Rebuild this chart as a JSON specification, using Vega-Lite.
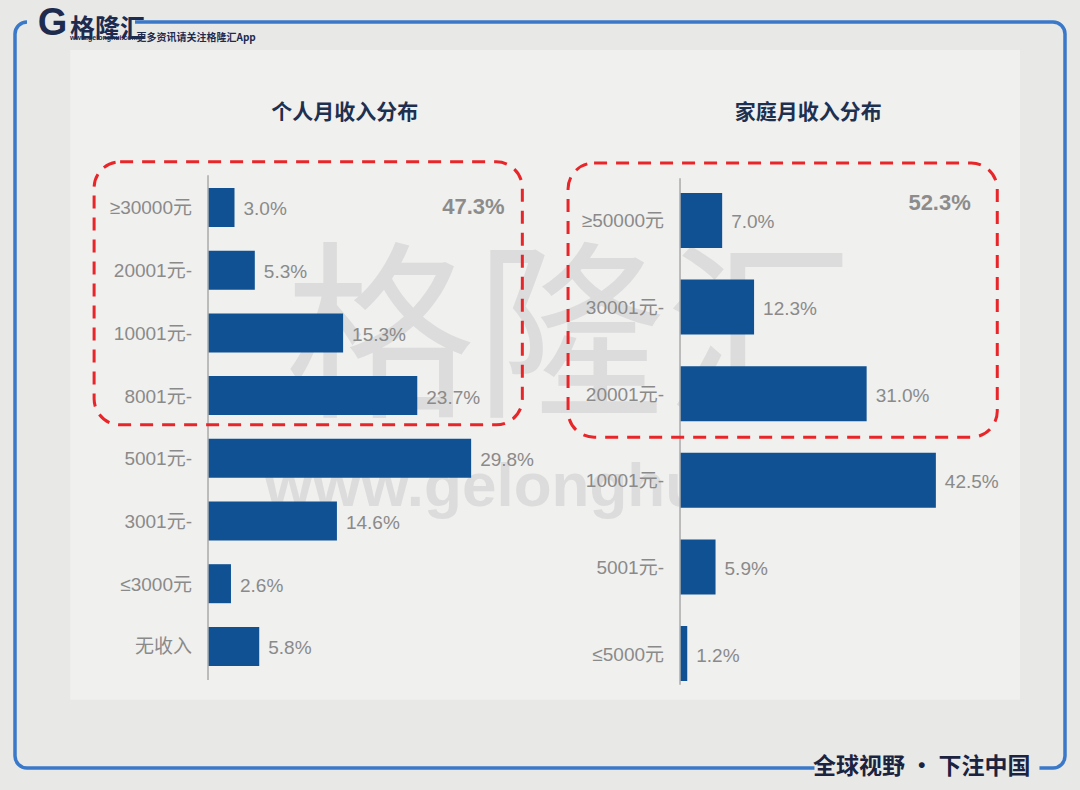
{
  "$schema": "https://vega.github.io/schema/vega-lite/v6.json",
  "width": 1050,
  "height": 746,
  "autosize": {"type": "none"},
  "padding": {"left": 15, "top": 22, "right": 15, "bottom": 22},
  "background": "#e8e9e6",
  "title": {"text": "格隆汇", "subtitle": "www.gelonghui.com", "anchor": "start", "frame": "group", "dx": 55, "dy": 42, "fontSize": 25, "fontWeight": "bold", "color": "#1d2b4f", "font": "Noto Sans CJK SC", "subtitleFontSize": 7, "subtitleFont": "Liberation Sans", "subtitleFontWeight": "bold", "subtitleColor": "#1d2b4f", "subtitlePadding": -8},
  "config": {
    "view": {"fill": "#e8e9e6", "stroke": "#3a78c9", "strokeWidth": 3.5, "cornerRadius": 12, "strokeDash": [0, 108, 1691, 225, 1700]},
    "font": "Noto Sans CJK SC",
    "axis": {"labels": false, "ticks": false, "domain": false, "grid": false}
  },
  "datasets": {
    "personal": [
      {"cat": "≥30000元", "share": 0.030},
      {"cat": "20001元-", "share": 0.053},
      {"cat": "10001元-", "share": 0.153},
      {"cat": "8001元-", "share": 0.237},
      {"cat": "5001元-", "share": 0.298},
      {"cat": "3001元-", "share": 0.146},
      {"cat": "≤3000元", "share": 0.026},
      {"cat": "无收入", "share": 0.058}
    ],
    "household": [
      {"cat": "≥50000元", "share": 0.070},
      {"cat": "30001元-", "share": 0.123},
      {"cat": "20001元-", "share": 0.310},
      {"cat": "10001元-", "share": 0.425},
      {"cat": "5001元-", "share": 0.059},
      {"cat": "≤5000元", "share": 0.012}
    ]
  },
  "layer": [
    {
      "layer": [
        {
          "data": {"values": [{}]},
          "mark": {"type": "rect", "fill": "#f0f0ef"},
          "encoding": {
            "x": {"datum": -0.156, "type": "quantitative"},
            "x2": {"datum": 0.9196},
            "y": {"datum": "≥30000元", "type": "nominal", "bandPosition": -3.54},
            "y2": {"datum": "无收入", "bandPosition": 1.87}
          }
        },
        {
          "data": {"values": [{"t": "格隆汇"}]},
          "mark": {"type": "text", "fontSize": 190, "fill": "#dcdcdc", "align": "center", "baseline": "middle"},
          "encoding": {
            "x": {"datum": 0.41, "type": "quantitative"},
            "y": {"datum": "10001元-", "type": "nominal", "bandPosition": 0.81},
            "text": {"field": "t"}
          }
        },
        {
          "data": {"values": [{"t": "www.gelonghui.com"}]},
          "mark": {"type": "text", "fontSize": 62, "font": "Liberation Sans", "fontWeight": "bold", "fill": "#dcdcdc", "align": "center", "baseline": "middle"},
          "encoding": {
            "x": {"datum": 0.404, "type": "quantitative"},
            "y": {"datum": "5001元-", "type": "nominal", "bandPosition": 1.24},
            "text": {"field": "t"}
          }
        },
        {
          "data": {"name": "personal"},
          "mark": {"type": "bar", "color": "#0f5193"},
          "encoding": {
            "x": {
              "field": "share", "type": "quantitative",
              "scale": {"domain": [-0.2186, 0.9706], "nice": false},
              "axis": {"title": null, "labels": false, "ticks": false, "domain": false, "grid": false}
            },
            "y": {
              "field": "cat", "type": "nominal", "sort": null,
              "scale": {"domain": ["≥30000元", "20001元-", "10001元-", "8001元-", "5001元-", "3001元-", "≤3000元", "无收入"], "range": [134.65, 675.25], "paddingInner": 0.378, "paddingOuter": 0.5},
              "axis": {"orient": "left", "title": "更多资讯请关注格隆汇App", "titleAngle": 0, "titleX": 121, "titleY": 15, "titleAlign": "left", "titleBaseline": "middle", "titleFontSize": 10, "titleFontWeight": "bold", "titleColor": "#1d2b4f", "titleFont": "Noto Sans CJK SC", "labels": false, "ticks": false, "domain": false, "grid": false}
            }
          }
        },
        {
          "data": {"name": "personal"},
          "mark": {"type": "text", "align": "left", "baseline": "middle", "dx": 9, "dy": 2, "fontSize": 19, "fill": "#8a8a8a", "font": "Liberation Sans, Noto Sans CJK SC"},
          "encoding": {
            "x": {"field": "share", "type": "quantitative"},
            "y": {"field": "cat", "type": "nominal", "sort": null},
            "text": {"field": "share", "type": "quantitative", "format": ".1%"}
          }
        },
        {
          "data": {"name": "personal"},
          "mark": {"type": "text", "align": "right", "baseline": "middle", "dx": -16, "dy": 1, "fontSize": 19, "fill": "#8a8a8a", "font": "Liberation Sans, Noto Sans CJK SC"},
          "encoding": {
            "x": {"datum": 0, "type": "quantitative"},
            "y": {"field": "cat", "type": "nominal", "sort": null},
            "text": {"field": "cat"}
          }
        },
        {
          "data": {"values": [{}]},
          "mark": {"type": "rule", "color": "#aaaaaa", "strokeWidth": 1.5},
          "encoding": {
            "x": {"datum": 0, "type": "quantitative"},
            "y": {"datum": "≥30000元", "type": "nominal", "bandPosition": -0.33},
            "y2": {"datum": "无收入", "bandPosition": 1.36}
          }
        },
        {
          "data": {"values": [{"t": "个人月收入分布"}]},
          "mark": {"type": "text", "fontSize": 21, "fontWeight": "bold", "fill": "#1e3050", "align": "center", "baseline": "middle"},
          "encoding": {
            "x": {"datum": 0.155, "type": "quantitative"},
            "y": {"datum": "≥30000元", "type": "nominal", "bandPosition": -1.92},
            "text": {"field": "t"}
          }
        },
        {
          "data": {"values": [{"t": "47.3%"}]},
          "mark": {"type": "text", "fontSize": 22, "fontWeight": "bold", "fill": "#8c8c8c", "align": "right", "baseline": "middle", "font": "Liberation Sans, Noto Sans CJK SC"},
          "encoding": {
            "x": {"datum": 0.336, "type": "quantitative"},
            "y": {"datum": "≥30000元", "type": "nominal", "bandPosition": 0.5},
            "text": {"field": "t"}
          }
        },
        {
          "data": {"values": [{}]},
          "mark": {"type": "rect", "fill": "#ffffff", "fillOpacity": 0, "stroke": "#e8262a", "strokeWidth": 3, "strokeDash": [13, 9], "cornerRadius": 26},
          "encoding": {
            "x": {"datum": -0.129, "type": "quantitative"},
            "x2": {"datum": 0.356},
            "y": {"datum": "≥30000元", "type": "nominal", "bandPosition": -0.67},
            "y2": {"datum": "8001元-", "bandPosition": 1.25}
          }
        }
      ]
    },
    {
      "layer": [
        {
          "data": {"name": "household"},
          "mark": {"type": "bar", "color": "#0f5193"},
          "encoding": {
            "x": {
              "field": "share", "type": "quantitative",
              "scale": {"domain": [-1.1047, 0.6395], "nice": false},
              "axis": {"orient": "bottom", "title": "全球视野 • 下注中国", "titleX": 1015, "titleY": -2, "titleAlign": "right", "titleBaseline": "middle", "titleFontSize": 23, "titleFontWeight": "bold", "titleColor": "#1b2340", "titleFont": "Noto Sans CJK SC", "labels": false, "ticks": false, "domain": false, "grid": false}
            },
            "y": {
              "field": "cat", "type": "nominal", "sort": null,
              "scale": {"domain": ["≥50000元", "30001元-", "20001元-", "10001元-", "5001元-", "≤5000元"], "range": [127.7, 702.3], "paddingInner": 0.365, "paddingOuter": 0.5},
              "axis": {"title": "G", "titleAngle": 0, "titleX": -1013, "titleY": 1, "titleAlign": "center", "titleBaseline": "middle", "titleFontSize": 38, "titleFontWeight": "bold", "titleColor": "#1d2b4f", "titleFont": "Liberation Sans", "labels": false, "ticks": false, "domain": false, "grid": false}
            }
          }
        },
        {
          "data": {"name": "household"},
          "mark": {"type": "text", "align": "left", "baseline": "middle", "dx": 9, "dy": 2, "fontSize": 19, "fill": "#8a8a8a", "font": "Liberation Sans, Noto Sans CJK SC"},
          "encoding": {
            "x": {"field": "share", "type": "quantitative"},
            "y": {"field": "cat", "type": "nominal", "sort": null},
            "text": {"field": "share", "type": "quantitative", "format": ".1%"}
          }
        },
        {
          "data": {"name": "household"},
          "mark": {"type": "text", "align": "right", "baseline": "middle", "dx": -16, "dy": 1, "fontSize": 19, "fill": "#8a8a8a", "font": "Liberation Sans, Noto Sans CJK SC"},
          "encoding": {
            "x": {"datum": 0, "type": "quantitative"},
            "y": {"field": "cat", "type": "nominal", "sort": null},
            "text": {"field": "cat"}
          }
        },
        {
          "data": {"values": [{}]},
          "mark": {"type": "rule", "color": "#aaaaaa", "strokeWidth": 1.5},
          "encoding": {
            "x": {"datum": 0, "type": "quantitative"},
            "y": {"datum": "≥50000元", "type": "nominal", "bandPosition": -0.27},
            "y2": {"datum": "≤5000元", "bandPosition": 1.07}
          }
        },
        {
          "data": {"values": [{"t": "家庭月收入分布"}]},
          "mark": {"type": "text", "fontSize": 21, "fontWeight": "bold", "fill": "#1e3050", "align": "center", "baseline": "middle"},
          "encoding": {
            "x": {"datum": 0.213, "type": "quantitative"},
            "y": {"datum": "≥50000元", "type": "nominal", "bandPosition": -1.455},
            "text": {"field": "t"}
          }
        },
        {
          "data": {"values": [{"t": "52.3%"}]},
          "mark": {"type": "text", "fontSize": 22, "fontWeight": "bold", "fill": "#8c8c8c", "align": "right", "baseline": "middle", "font": "Liberation Sans, Noto Sans CJK SC"},
          "encoding": {
            "x": {"datum": 0.483, "type": "quantitative"},
            "y": {"datum": "≥50000元", "type": "nominal", "bandPosition": 0.18},
            "text": {"field": "t"}
          }
        },
        {
          "data": {"values": [{}]},
          "mark": {"type": "rect", "fill": "#ffffff", "fillOpacity": 0, "stroke": "#e8262a", "strokeWidth": 3, "strokeDash": [13, 9], "cornerRadius": 26},
          "encoding": {
            "x": {"datum": -0.186, "type": "quantitative"},
            "x2": {"datum": 0.527},
            "y": {"datum": "≥50000元", "type": "nominal", "bandPosition": -0.545},
            "y2": {"datum": "20001元-", "bandPosition": 1.29}
          }
        }
      ]
    }
  ],
  "resolve": {"scale": {"x": "independent", "y": "independent"}, "axis": {"x": "independent", "y": "independent"}}
}
